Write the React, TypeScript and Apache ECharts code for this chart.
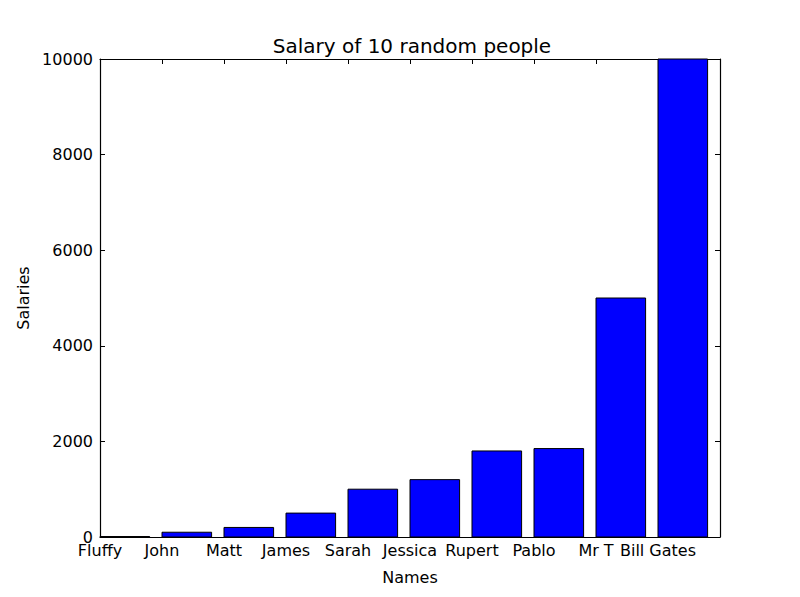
import { useEffect, useRef } from "react";
import * as echarts from "echarts";

const names = ["Fluffy", "John", "Matt", "James", "Sarah", "Jessica", "Rupert", "Pablo", "Mr T", "Bill Gates"];
const salaries = [10, 100, 200, 500, 1000, 1200, 1800, 1850, 5000, 10000];
const barWidth = 0.8;

const FONT = "DejaVu Sans";

export default function App() {
  const ref = useRef<HTMLDivElement>(null);

  useEffect(() => {
    document.body.style.margin = "0";
    if (!ref.current) return;
    const chart = echarts.init(ref.current, undefined, { renderer: "svg" });

    const frameAxis = {
      axisLine: { show: true, onZero: false, lineStyle: { color: "#000", width: 1.2 } },
      axisTick: { show: true, inside: true, length: 5, lineStyle: { color: "#000" } },
      splitLine: { show: false },
    };

    chart.setOption({
      animation: false,
      backgroundColor: "#fff",
      title: {
        text: "Salary of 10 random people",
        left: 407,
        top: 31,
        textAlign: "center",
        textStyle: { fontFamily: FONT, fontSize: 20, fontWeight: "normal", color: "#000" },
      },
      grid: { left: 100, right: 80, top: 59, bottom: 60 },
      xAxis: [
        {
          type: "value",
          min: 0,
          max: names.length,
          interval: 1,
          position: "bottom",
          name: "Names",
          nameLocation: "middle",
          nameGap: 32,
          nameTextStyle: { fontFamily: FONT, fontSize: 16, color: "#000" },
          ...frameAxis,
          axisLabel: {
            fontFamily: FONT,
            fontSize: 16,
            color: "#000",
            margin: 5,
            showMinLabel: true,
            showMaxLabel: true,
            formatter: (v: number) => names[Math.round(v)] ?? "",
          },
        },
        {
          type: "value",
          min: 0,
          max: names.length,
          interval: 1,
          position: "top",
          ...frameAxis,
          axisLabel: { show: false },
        },
      ],
      yAxis: [
        {
          type: "value",
          min: 0,
          max: 10000,
          interval: 2000,
          position: "left",
          name: "Salaries",
          nameLocation: "middle",
          nameGap: 60,
          nameRotate: 90,
          nameTextStyle: { fontFamily: FONT, fontSize: 16, color: "#000" },
          ...frameAxis,
          axisLabel: {
            fontFamily: FONT,
            fontSize: 16,
            color: "#000",
            margin: 7,
            formatter: (v: number) => String(v),
          },
        },
        {
          type: "value",
          min: 0,
          max: 10000,
          interval: 2000,
          position: "right",
          ...frameAxis,
          axisLabel: { show: false },
        },
      ],
      series: [
        {
          type: "custom",
          xAxisIndex: 0,
          yAxisIndex: 0,
          data: salaries.map((v, i) => [i, v]),
          encode: { x: 0, y: 1 },
          renderItem: (_params: any, api: any) => {
            const x = api.value(0);
            const v = api.value(1);
            const p0 = api.coord([x, 0]);
            const p1 = api.coord([x + barWidth, v]);
            return {
              type: "rect",
              shape: { x: p0[0], y: p1[1], width: p1[0] - p0[0], height: p0[1] - p1[1] },
              style: { fill: "#0000ff", stroke: "#000", lineWidth: 1 },
            };
          },
        },
      ],
    });

    return () => chart.dispose();
  }, []);

  return <div ref={ref} style={{ width: 800, height: 597 }} />;
}
